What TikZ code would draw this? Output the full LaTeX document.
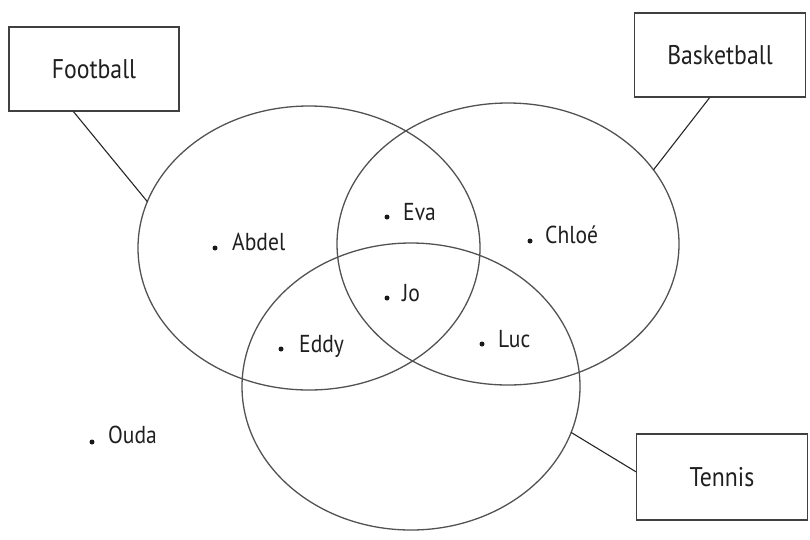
\documentclass[tikz,border=0pt]{standalone}
\usepackage{fontspec}
\setmainfont{PT Sans}[FakeStretch=0.88]
\usetikzlibrary{shapes.geometric,calc}
\begin{document}
\begin{tikzpicture}[x=1pt,y=-1pt,
  setring/.style={ellipse, draw=black!68, line width=1.3pt, inner sep=0pt, outer sep=0pt},
  sportbox/.style={rectangle, draw=black!75, line width=1.2pt, minimum width=170pt,
    minimum height=84pt, inner sep=0pt, text=black!88, font=\fontsize{27}{32}\selectfont},
  link/.style={draw=black!85, line width=1.1pt},
  pdot/.style={circle, fill=black!90, inner sep=0pt, minimum size=5pt},
  pname/.style={anchor=base west, inner sep=0pt, text=black!88, font=\fontsize{24.5}{28}\selectfont}]
\useasboundingbox (0,0) rectangle (810,539);

% the three sets
\node[setring, minimum width=342pt, minimum height=284pt] (foot) at (309,248) {};
\node[setring, minimum width=342pt, minimum height=282pt] (bask) at (508,244) {};
\node[setring, minimum width=338pt, minimum height=287pt] (tenn) at (411,386.5) {};

% set labels
\node[sportbox] (footbox) at (94,69) {Football};
\node[sportbox, minimum width=171pt] (baskbox) at (720,55) {Basketball};
\node[sportbox, minimum width=171pt, minimum height=86pt] (tennbox) at (722,477) {Tennis};

% label connectors
\draw[link] ($(footbox.south west)!0.38!(footbox.south east)$) -- (foot.164);
\draw[link] ($(baskbox.south west)!0.44!(baskbox.south east)$) -- (bask.27.5);
\draw[link] ($(tennbox.north west)!0.44!(tennbox.south west)$) -- (tenn.-16.5);

% members
\node[pdot] (abdel) at (215,248) {};
\node[pname] (abdelt) at (232,250) {Abdel};
\node[pdot] (eva) at (387,217) {};
\node[pname] (evat) at (403,220) {Eva};
\node[pdot] (chloe) at (530,241) {};
\node[pname] (chloet) at (545,243) {Chloé};
\node[pdot] (jo) at (387,298) {};
\node[pname] (jot) at (402,301) {Jo};
\node[pdot] (eddy) at (281,349) {};
\node[pname] (eddyt) at (299,352) {Eddy};
\node[pdot] (luc) at (482,344) {};
\node[pname] (luct) at (498,347) {Luc};
\node[pdot] (ouda) at (92,442) {};
\node[pname] (oudat) at (108,443) {Ouda};
\end{tikzpicture}
\end{document}
